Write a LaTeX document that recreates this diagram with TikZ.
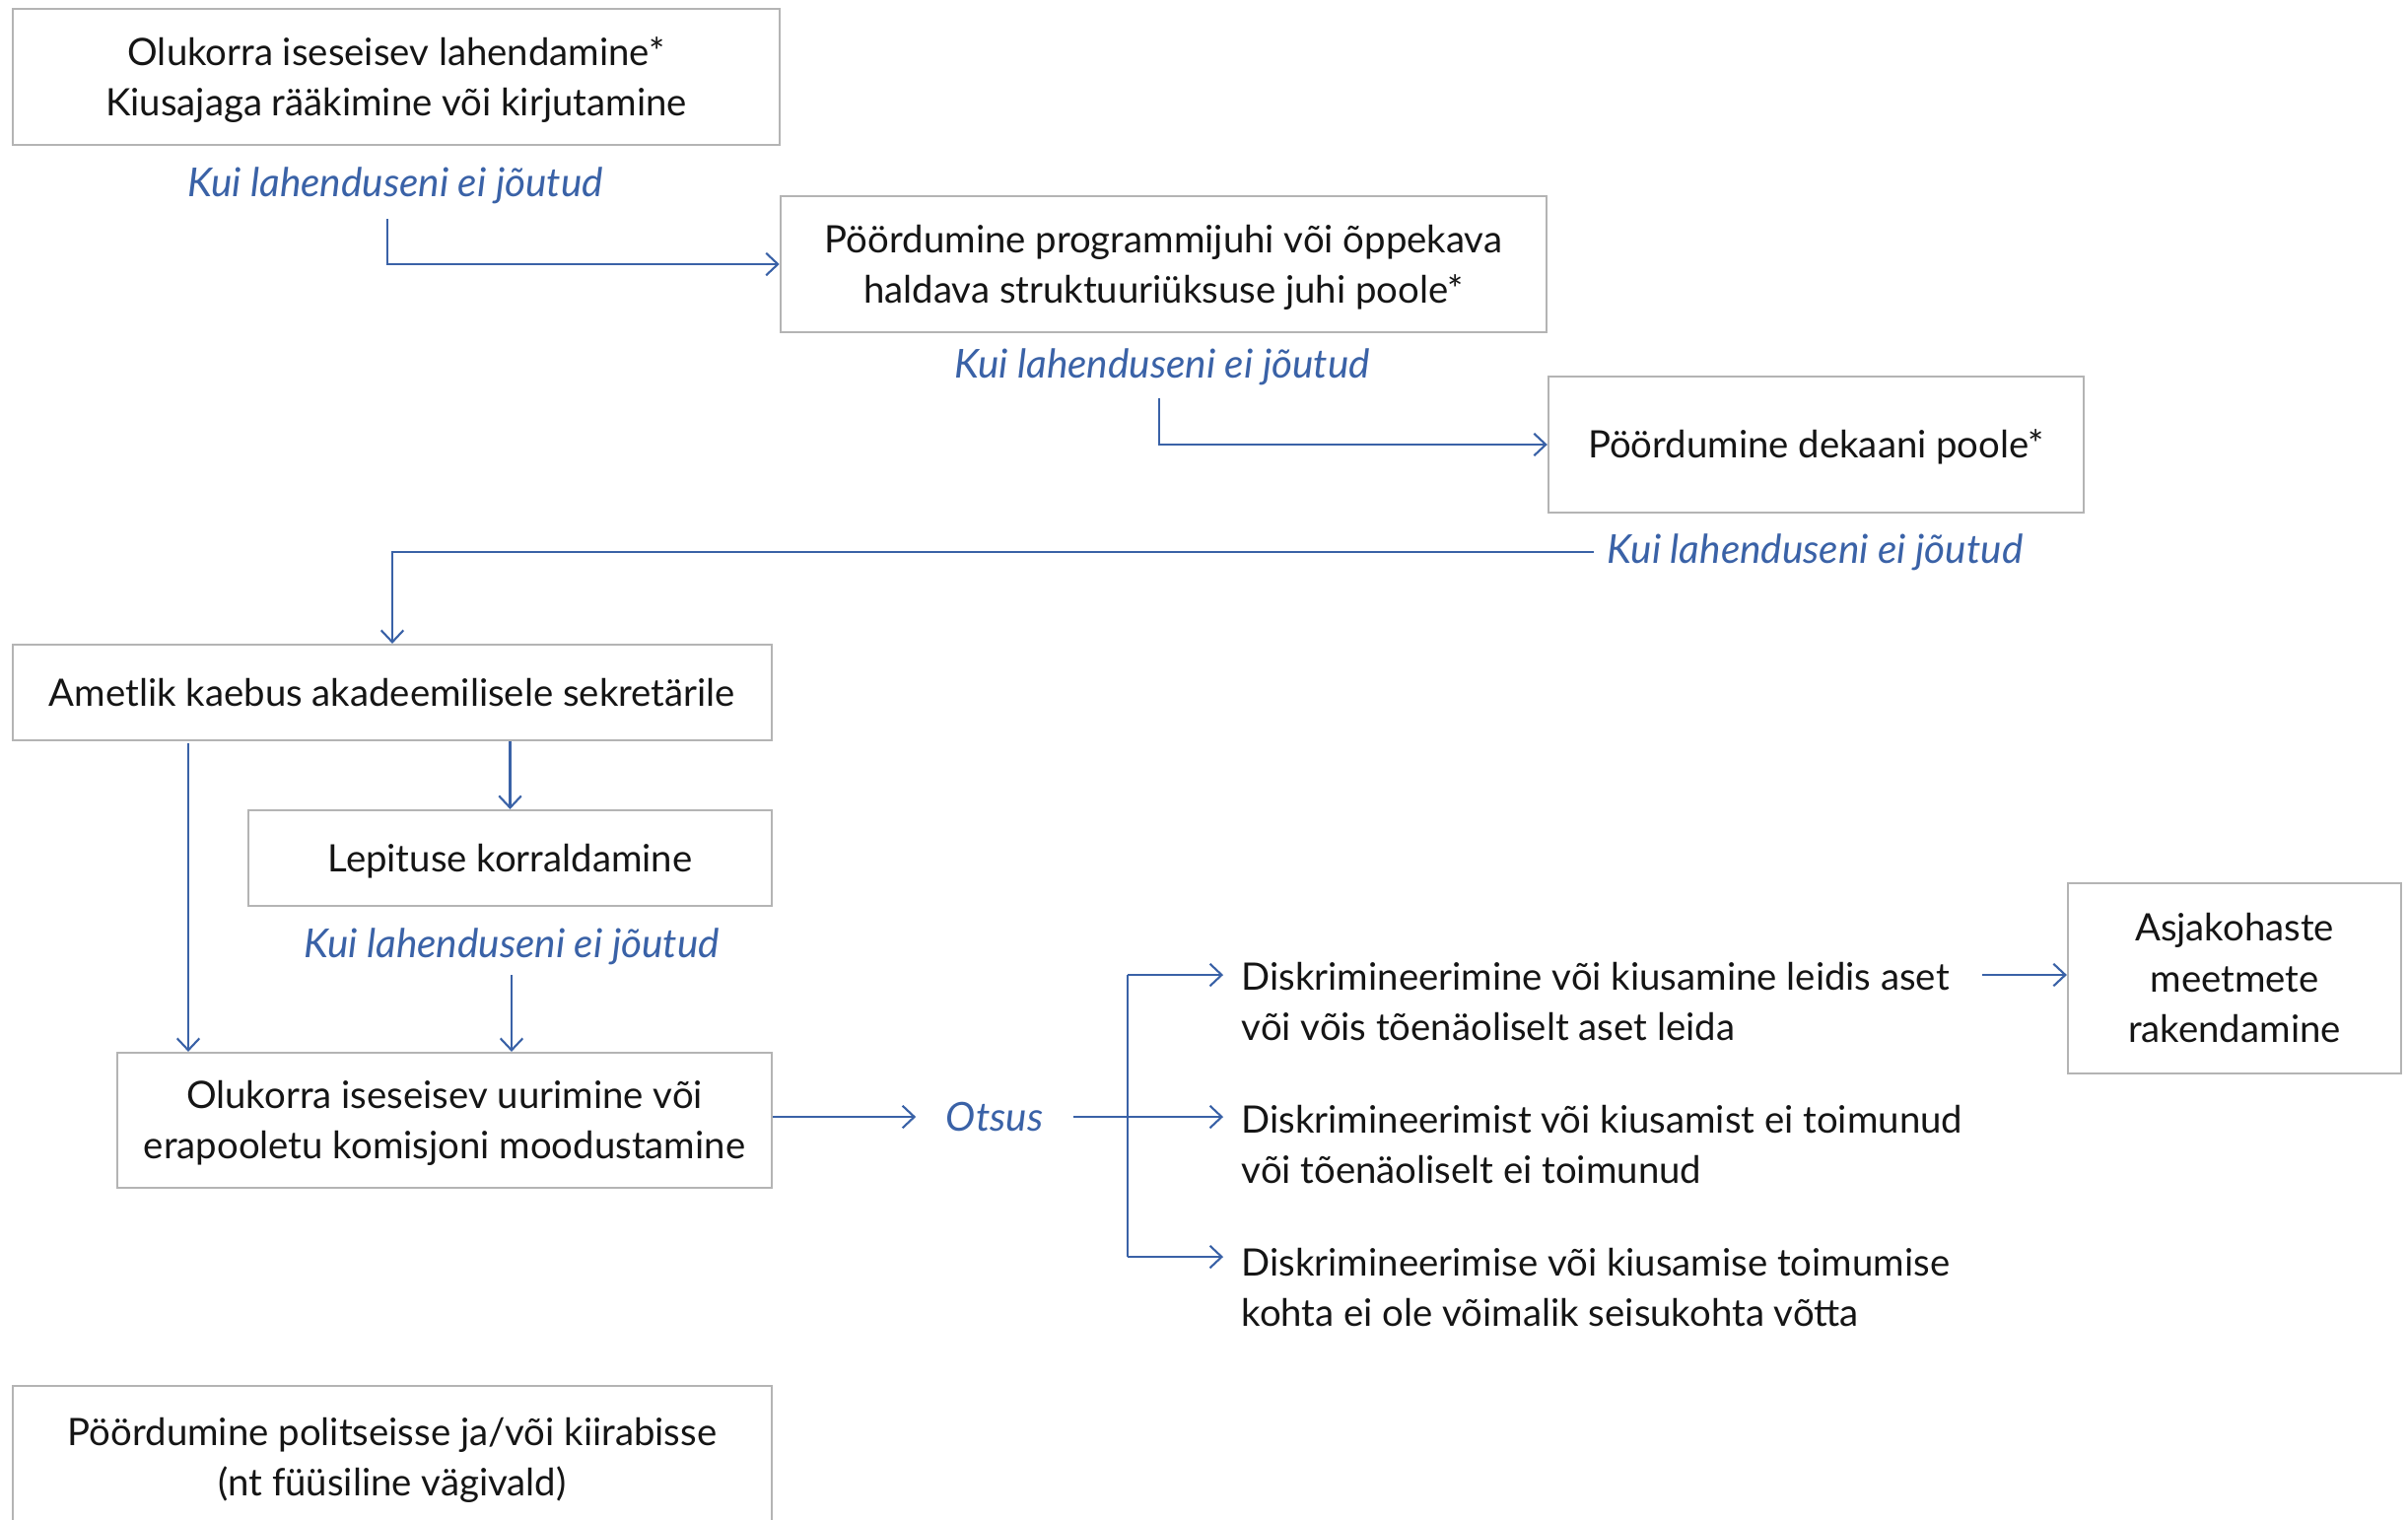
\documentclass[tikz,border=0pt]{standalone}
\usepackage{fontspec}
\setmainfont{Lato}
\usetikzlibrary{arrows.meta}
\definecolor{flowblue}{HTML}{3A62A7}
\definecolor{boxgray}{HTML}{B4B4B4}
\definecolor{txt}{HTML}{151515}
\newcommand\btext[2][-1pt]{\raisebox{#1}[\height][\depth]{\begin{tabular}{@{}c@{}}#2\end{tabular}}}
\begin{document}
\begin{tikzpicture}[x=0.01cm,y=-0.01cm,
  every node/.style={font=\fontsize{10.9}{14.6}\selectfont, text=txt},
  box/.style={draw=boxgray, line width=0.6pt, inner sep=0pt},
  lbl/.style={font=\fontsize{11.5}{14.6}\selectfont\itshape, text=flowblue, inner sep=0pt},
  item/.style={anchor=west, align=left, inner xsep=0.18cm, inner ysep=0pt},
  arr/.style={draw=flowblue, line width=0.6pt, -{Straight Barb[length=3.4pt,width=6.4pt,line width=0.6pt]}},
  ln/.style={draw=flowblue, line width=0.6pt}]
\clip (0,0) rectangle (2443,1541);
\fill[white] (0,0) rectangle (2443,1541);

% boxes
\node[box, minimum width=7.78cm, minimum height=1.38cm] (b1) at (402,78)
  {\btext{Olukorra iseseisev lahendamine*\\Kiusajaga rääkimine või kirjutamine}};
\node[box, minimum width=7.77cm, minimum height=1.38cm] (b2) at (1180.5,268)
  {\btext{Pöördumine programmijuhi või õppekava\\haldava struktuuriüksuse juhi poole*}};
\node[box, minimum width=5.43cm, minimum height=1.38cm] (b3) at (1842.5,451)
  {\btext{Pöördumine dekaani poole*}};
\node[box, minimum width=7.70cm, minimum height=0.97cm] (b4) at (398,702.5)
  {\btext{Ametlik kaebus akadeemilisele sekretärile}};
\node[box, minimum width=5.31cm, minimum height=0.97cm] (b5) at (517.5,870.5)
  {\btext{Lepituse korraldamine}};
\node[box, minimum width=6.64cm, minimum height=1.37cm] (b6) at (451,1136.5)
  {\btext{Olukorra iseseisev uurimine või\\erapooletu komisjoni moodustamine}};
\node[box, minimum width=3.38cm, minimum height=1.93cm] (b7) at (2267,992.5)
  {\btext{Asjakohaste\\meetmete\\rakendamine}};
\node[box, minimum width=7.70cm, minimum height=1.44cm] (b8) at (398,1478)
  {\btext{Pöördumine politseisse ja/või kiirabisse\\(nt füüsiline vägivald)}};

% labels
\node[lbl] (l1) at (401,188) {Kui lahenduseni ei jõutud};
\node[lbl] (l2) at (1179,372) {Kui lahenduseni ei jõutud};
\node[lbl, anchor=west, inner xsep=0.13cm] (l3) at (1617,560) {Kui lahenduseni ei jõutud};
\node[lbl] (l4) at (519,960) {Kui lahenduseni ei jõutud};
\node[lbl, inner xsep=0.3cm] (ot) at (1009,1133) {Otsus};

% outcome items
\node[item] (i1) at (1241,1016) {Diskrimineerimine või kiusamine leidis aset\\või võis tõenäoliselt aset leida};
\node[item] (i2) at (1241,1161) {Diskrimineerimist või kiusamist ei toimunud\\või tõenäoliselt ei toimunud};
\node[item] (i3) at (1241,1306) {Diskrimineerimise või kiusamise toimumise\\kohta ei ole võimalik seisukohta võtta};

% connector start points
\coordinate (s1) at (393,222);
\coordinate (s2) at (1176,404);
\coordinate (s5) at (191,754);
\coordinate (s6) at (519,989);
\coordinate (ft) at (1144,989);
\coordinate (fb) at (1144,1275);

\draw[arr] (s1) |- (b2.west);
\draw[arr] (s2) |- (b3.west);
\draw[arr] (l3.west) -| (b4.north);
\draw[arr] (b4.south -| b5.north) -- (b5.north);
\draw[arr] (s5) -- (s5 |- b6.north);
\draw[arr] (s6) -- (s6 |- b6.north);
\draw[arr] (b6.east |- ot.west) -- (ot.west);
\draw[ln] (ft) -- (fb);
\draw[arr] (ot.east) -- (ot.east -| i2.west);
\draw[arr] (ft) -- (ft -| i1.west);
\draw[arr] (fb) -- (fb -| i3.west);
\draw[arr] ([xshift=0.15cm]i1.east |- ft) -- (b7.west |- ft);
\end{tikzpicture}
\end{document}
